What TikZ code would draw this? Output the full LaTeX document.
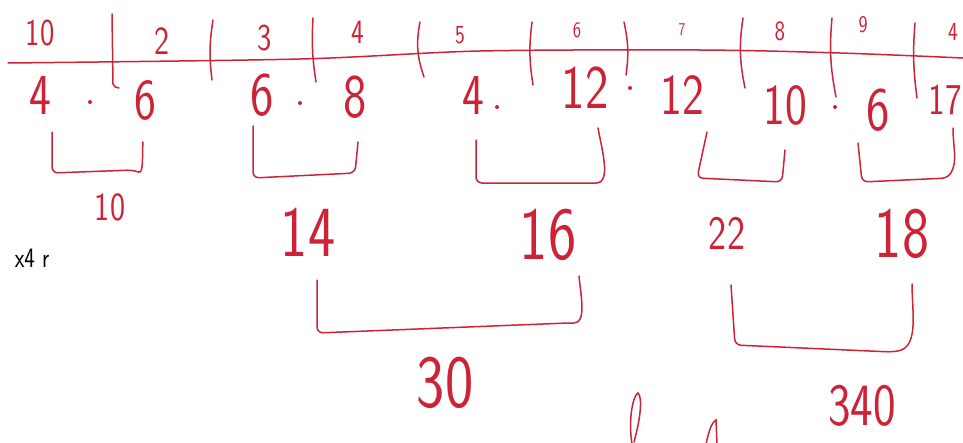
\documentclass[tikz,border=0pt]{standalone}
\usepackage{graphicx}
\definecolor{pen}{RGB}{205,35,55}
\tikzset{
  hw/.style={text=pen, inner sep=0pt, font=\sffamily},
  brk/.style={draw=pen, line width=1.5pt, line cap=round, line join=round, rounded corners=6pt},
  penline/.style={draw=pen, line width=1.5pt, line cap=round},
  dotmark/.style={circle, fill=pen, inner sep=0pt, minimum size=4pt},
}
\newcommand{\hwfs}[2]{\fontsize{#1}{#1}\selectfont\scalebox{0.8}[1]{#2}}
\begin{document}
\begin{tikzpicture}[x=1pt,y=-1pt]
\useasboundingbox (0,0) rectangle (963,442);
% axis line
\draw[penline] plot[smooth] coordinates {(8,63) (300,59) (480,51) (700,50) (840,53) (963,58)};
% ticks
\draw[penline] (112,14) -- (113,84) to[out=-70,in=180] (119,88);
\draw[penline] (213,20) to[bend right=8] (212,80);
\draw[penline] (313,18) to[bend right=6] (316,82);
\draw[penline] (420,22) to[bend right=15] (424,77);
\draw[penline] (532,22) to[bend right=8] (533,85);
\draw[penline] (624,22) to[bend left=10] (626,75);
\draw[penline] (743,18) to[bend right=10] (745,88);
\draw[penline] (832,18) to[bend right=8] (836,97);
\draw[penline] (915,23) to[bend right=6] (917,98);
% top labels
\node[hw] (t1) at (40,33) {\hwfs{38}{10}};
\node[hw] (t2) at (162,41) {\hwfs{40}{2}};
\node[hw] (t3) at (265,38) {\hwfs{38}{3}};
\node[hw] (t4) at (358,32) {\hwfs{34}{4}};
\node[hw] (t5) at (460,35) {\hwfs{26}{5}};
\node[hw] (t6) at (577,30) {\hwfs{22}{6}};
\node[hw] (t7) at (682,30) {\hwfs{18}{7}};
\node[hw] (t8) at (780,31) {\hwfs{28}{8}};
\node[hw] (t9) at (863,25) {\hwfs{24}{9}};
\node[hw, anchor=west] (t10) at (948,32) {\hwfs{26}{4}};
% bottom row
\node[hw] (b1) at (40,95) {\hwfs{58}{4}};
\node[dotmark] (d1) at (90,102) {};
\node[hw] (b2) at (145,100) {\hwfs{58}{6}};
\node[hw] (b3) at (262,95) {\hwfs{62}{6}};
\node[dotmark] (d2) at (300,103) {};
\node[hw] (b4) at (355,97) {\hwfs{62}{8}};
\node[hw] (b5) at (473,95) {\hwfs{58}{4}};
\node[dotmark] (d3) at (497,107) {};
\node[hw] (b6) at (585,88) {\hwfs{62}{12}};
\node[dotmark] (d4) at (630,88) {};
\node[hw] (b7) at (682,95) {\hwfs{58}{12}};
\node[dotmark] (d5) at (835,107) {};
\node[hw] (b8) at (785,105) {\hwfs{58}{10}};
\node[hw] (b9) at (878,110) {\hwfs{62}{6}};
\node[hw, anchor=east] (b10) at (962,100) {\hwfs{44}{17}};
% first-level brackets
\draw[brk] (52,132) -- (52,173) -- (133,170) to[out=-20,in=-95] (143,142);
\draw[brk] (253,126) -- (253,178) -- (355,173) -- (358,142);
\draw[brk] (476,140) -- (476,183) -- (590,183) to[out=0,in=-80] (598,128);
\draw[brk] (707,132) -- (697,178) -- (782,182) -- (785,150);
\draw[brk] (858,143) -- (862,182) -- (948,178) to[out=60,in=-90] (953,128);
% first-level sums
\node[hw] (s1) at (110,207) {\hwfs{40}{10}};
\node[hw] (s2) at (308,232) {\hwfs{72}{14}};
\node[hw] (s3) at (548,235) {\hwfs{75}{16}};
\node[hw] (s4) at (727,233) {\hwfs{48}{22}};
\node[hw] (s5) at (902,234) {\hwfs{72}{18}};
% second-level brackets
\draw[brk] (317,280) -- (317,333) -- (568,323) to[out=0,in=-85] (579,276);
\draw[brk] (731,285) -- (735,345) -- (892,352) to[out=10,in=-90] (912,284);
% second-level sums
\node[hw] (u1) at (445,383) {\hwfs{75}{30}};
\node[hw] (u2) at (862,406) {\hwfs{60}{340}};
% black note at left edge
\node[inner sep=0pt, font=\sffamily] (note) at (32,258) {\hwfs{28}{x4 r}};
% strokes cut at the bottom edge
\draw[penline] (632,444) .. controls (628,420) and (633,395) .. (638,393) .. controls (643,398) and (640,420) .. (634,442);
\draw[penline] (706,444) .. controls (709,430) and (712,422) .. (716,420) -- (717,444);
\end{tikzpicture}
\end{document}
